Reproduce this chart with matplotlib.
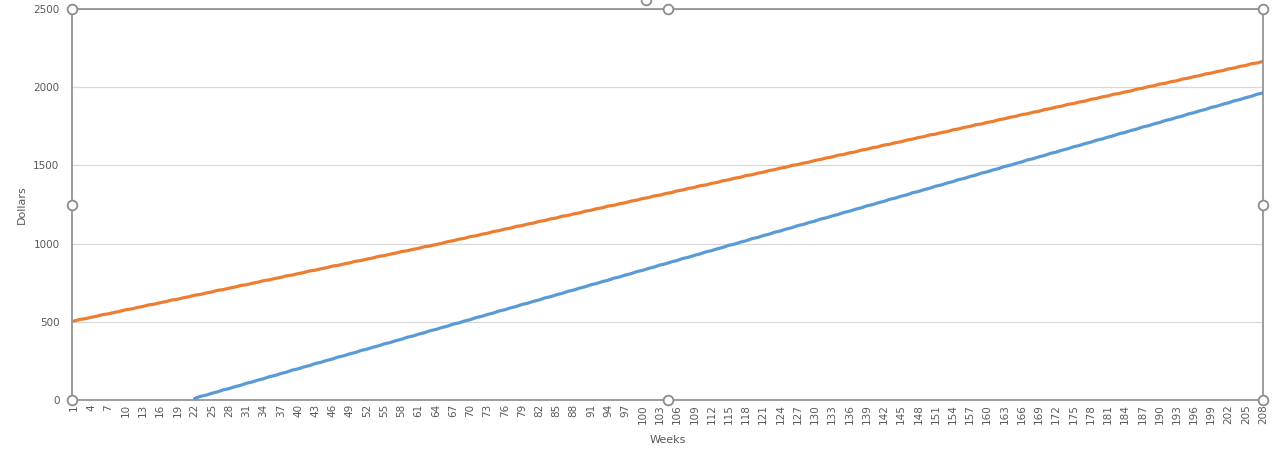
import numpy as np
import matplotlib
matplotlib.use("Agg")
import matplotlib.pyplot as plt

# weeks 1..208
weeks = list(range(1, 209))

# orange series, one value per week
orange = [
    505, 515, 520, 529, 536, 546, 551, 560, 567, 577, 582, 591,
    598, 608, 613, 622, 629, 639, 644, 653, 660, 670, 675, 684,
    691, 701, 706, 715, 722, 732, 737, 746, 753, 763, 768, 777,
    784, 794, 799, 808, 815, 825, 830, 839, 846, 856, 861, 870,
    877, 887, 892, 901, 908, 918, 923, 932, 939, 949, 954, 963,
    970, 980, 985, 994,
    1001, 1012, 1018, 1028, 1034, 1045, 1050, 1060, 1066, 1077, 1083, 1093,
    1099, 1110, 1115, 1125, 1131, 1142, 1148, 1158, 1164, 1175, 1180, 1190,
    1196, 1207, 1213, 1223, 1229, 1240, 1245, 1255, 1261, 1272, 1278, 1288,
    1294, 1305, 1310, 1320, 1326, 1337, 1343, 1353, 1359, 1370, 1375, 1385,
    1391, 1402, 1408, 1418, 1424, 1435, 1440, 1450, 1456, 1467, 1473, 1483,
    1489, 1500, 1505, 1515, 1521, 1532, 1538, 1548, 1554, 1565, 1570, 1580,
    1586, 1597, 1603, 1613, 1619, 1630, 1635, 1645, 1651, 1662, 1668, 1678,
    1684, 1695, 1700, 1710, 1716, 1727, 1733, 1743, 1749, 1760, 1765, 1775,
    1781, 1792, 1798, 1808, 1814, 1825, 1830, 1840, 1846, 1857, 1863, 1873,
    1879, 1890, 1895, 1905, 1911, 1922, 1928, 1938, 1944, 1955, 1960, 1970,
    1976, 1987, 1993, 2003, 2009, 2020, 2025, 2035, 2041, 2052, 2058, 2068,
    2074, 2085, 2090, 2100, 2106, 2117, 2123, 2133, 2139, 2150, 2155, 2165,
]

# blue series starts at week 22
blue_start = 22
blue = [
    10, 23, 31, 43, 52, 65, 73, 85, 94, 107, 115, 127,
    136, 149, 157, 169, 178, 191, 199, 211, 220, 233, 241, 253,
    262, 275, 283, 295, 304, 317, 325, 337, 346, 359, 367, 379,
    388, 401, 409, 421, 430, 443, 451, 463, 472, 485, 493, 505,
    514, 527, 535, 547, 556, 569, 577, 589, 598, 611, 619, 631,
    640, 653, 661, 673, 682, 695, 703, 715, 724, 737, 745, 757,
    766, 779, 787, 799, 808, 821, 829, 841, 850, 863, 871, 883,
    892, 905, 913, 925, 934, 947, 955, 967, 976, 989, 997, 1009,
    1018, 1031, 1039, 1051, 1060, 1073, 1081, 1093, 1102, 1115, 1123, 1135,
    1144, 1157, 1165, 1177, 1186, 1199, 1207, 1219, 1228, 1241, 1249, 1261,
    1270, 1283, 1291, 1303, 1312, 1325, 1333, 1345, 1354, 1367, 1375, 1387,
    1396, 1409, 1417, 1429, 1438, 1451, 1459, 1471, 1480, 1493, 1501, 1513,
    1522, 1535, 1543, 1555, 1564, 1577, 1585, 1597, 1606, 1619, 1627, 1639,
    1648, 1661, 1669, 1681, 1690, 1703, 1711, 1723, 1732, 1745, 1753, 1765,
    1774, 1787, 1795, 1807, 1816, 1829, 1837, 1849, 1858, 1871, 1879, 1891,
    1900, 1913, 1921, 1933, 1942, 1955, 1963,
]
blue_weeks = weeks[blue_start - 1:]

y_ticks = [0, 500, 1000, 1500, 2000, 2500]
x_ticks = weeks[::3]

txt = "#595959"
frame = "#8c8c8c"

fig = plt.figure(figsize=(12.85, 4.57), dpi=100)
ax = fig.add_axes([72 / 1285, 57 / 457, 1191 / 1285, 391 / 457])

ax.plot(weeks, orange, color="#ED7D31", lw=2.3, solid_capstyle="round")
ax.plot(blue_weeks, blue, color="#5B9BD5", lw=2.3, solid_capstyle="round")

ax.set_xlim(0.65, 208)
ax.set_ylim(0, 2500)
ax.set_yticks(y_ticks)
ax.set_xticks(x_ticks)
ax.set_xticklabels([str(w) for w in x_ticks], rotation=90)
ax.tick_params(axis="y", length=0, pad=9, labelsize=7.5, labelcolor=txt)
ax.tick_params(axis="x", length=0, pad=3, labelsize=7.5, labelcolor=txt)
ax.grid(axis="y", color="#d9d9d9", lw=0.9)
ax.set_axisbelow(True)

for s in ax.spines.values():
    s.set_color(frame)
    s.set_linewidth(1.2)

ax.set_xlabel("Weeks", fontsize=8, color=txt, labelpad=8)
ax.set_ylabel("Dollars", fontsize=8, color=txt)
ax.yaxis.set_label_coords(-45 / 1191, 0.5)

# selection handles round the plot area
hx = [0, 0.5, 1, 0, 1, 0, 0.5, 1]
hy = [1, 1, 1, 0.5, 0.5, 0, 0, 0]
ax.plot(hx, hy, ls="none", marker="o", ms=7, mfc="white", mec=frame, mew=1.3,
        transform=ax.transAxes, clip_on=False, zorder=5)
fig.add_artist(plt.Line2D([646 / 1285], [1.0], ls="none", marker="o", ms=7,
                          mfc="white", mec=frame, mew=1.3))

fig.savefig("out.png", dpi=100)
